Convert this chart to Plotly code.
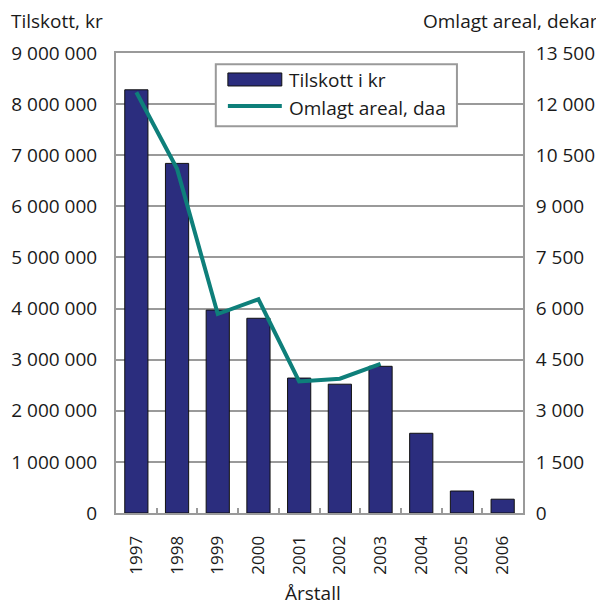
import plotly.graph_objects as go

years = ["1997", "1998", "1999", "2000", "2001", "2002", "2003", "2004", "2005", "2006"]
tilskott = [8280000, 6840000, 3970000, 3810000, 2640000, 2520000, 2870000, 1560000, 430000, 270000]
areal_years = ["1997", "1998", "1999", "2000", "2001", "2002", "2003"]
areal = [12350, 10100, 5840, 6270, 3860, 3940, 4380]

left_ticks = [0, 1000000, 2000000, 3000000, 4000000, 5000000, 6000000, 7000000, 8000000, 9000000]
right_ticks = [0, 1500, 3000, 4500, 6000, 7500, 9000, 10500, 12000, 13500]

FONT = "Open Sans"
GRID = "#9a9a9a"
BAR = "#2b2d7e"
LINE = "#0e7f7a"
TXT = "#1a1a1a"

fig = go.Figure()
fig.add_trace(go.Bar(
    x=years, y=tilskott, name="Tilskott i kr",
    marker=dict(color=BAR, line=dict(color="#111111", width=1)),
    yaxis="y", showlegend=False,
))
fig.add_trace(go.Scatter(
    x=areal_years, y=areal, name="Omlagt areal, daa", mode="lines",
    line=dict(color=LINE, width=4),
    yaxis="y2", showlegend=False,
))

# custom legend (box, symbols, labels) in paper coordinates
shapes = [
    dict(type="rect", xref="paper", yref="paper", x0=0.2452, x1=0.8377, y0=0.8409, y1=0.9755,
         line=dict(color=GRID, width=2), fillcolor="white", layer="above"),
    dict(type="rect", xref="paper", yref="paper", x0=0.2749, x1=0.4074, y0=0.9283, y1=0.9566,
         line=dict(color="#111111", width=1), fillcolor=BAR, layer="above"),
    dict(type="line", xref="paper", yref="paper", x0=0.2749, x1=0.4074, y0=0.8849, y1=0.8849,
         line=dict(color=LINE, width=4), layer="above"),
]

annotations = [
    dict(text="Tilskott i kr", xref="paper", yref="paper", x=0.4212, y=0.9405,
         xanchor="left", yanchor="middle", showarrow=False, font=dict(size=19)),
    dict(text="Omlagt areal, daa", xref="paper", yref="paper", x=0.4212, y=0.8800,
         xanchor="left", yanchor="middle", showarrow=False, font=dict(size=19)),
    dict(text="Tilskott, kr", xref="paper", yref="paper", x=0, y=1, xshift=-106, yshift=32,
         xanchor="left", yanchor="middle", showarrow=False, font=dict(size=19), borderpad=0),
    dict(text="Omlagt areal, dekar", xref="paper", yref="paper", x=1, y=1, xshift=76, yshift=32,
         xanchor="right", yanchor="middle", showarrow=False, font=dict(size=19), borderpad=0),
    dict(text="Årstall", xref="paper", yref="paper", x=0.5, y=0, xshift=-7, yshift=-80,
         xanchor="center", yanchor="middle", showarrow=False, font=dict(size=19), borderpad=0),
]

fig.update_layout(
    width=596, height=600,
    margin=dict(l=108, r=81, t=45, b=95),
    paper_bgcolor="white", plot_bgcolor="white",
    font=dict(family=FONT, size=19, color=TXT),
    separators=", ",
    bargap=0.43,
    showlegend=False,
    shapes=shapes,
    annotations=annotations,
    xaxis=dict(
        type="category", tickangle=-90,
        showline=True, linecolor=GRID, linewidth=2, mirror=True,
        ticks="inside", tickson="boundaries", ticklen=5, tickcolor=GRID, tickwidth=2,
        showgrid=False, automargin=False,
        tickfont=dict(size=17), ticklabelstandoff=14,
    ),
    yaxis=dict(
        range=[0, 9000000], tickvals=left_ticks, tickformat=",d",
        showgrid=True, gridcolor=GRID, gridwidth=2,
        showline=True, linecolor=GRID, linewidth=2,
        zeroline=False, ticks="", automargin=False,
        tickfont=dict(size=19), ticklabelstandoff=13,
    ),
    yaxis2=dict(
        range=[0, 13500], tickvals=right_ticks, tickformat=",d",
        overlaying="y", side="right",
        showgrid=False, showline=True, linecolor=GRID, linewidth=2,
        zeroline=False, ticks="", automargin=False,
        tickfont=dict(size=19), ticklabelstandoff=7,
    ),
)

fig.write_html("out.html")
